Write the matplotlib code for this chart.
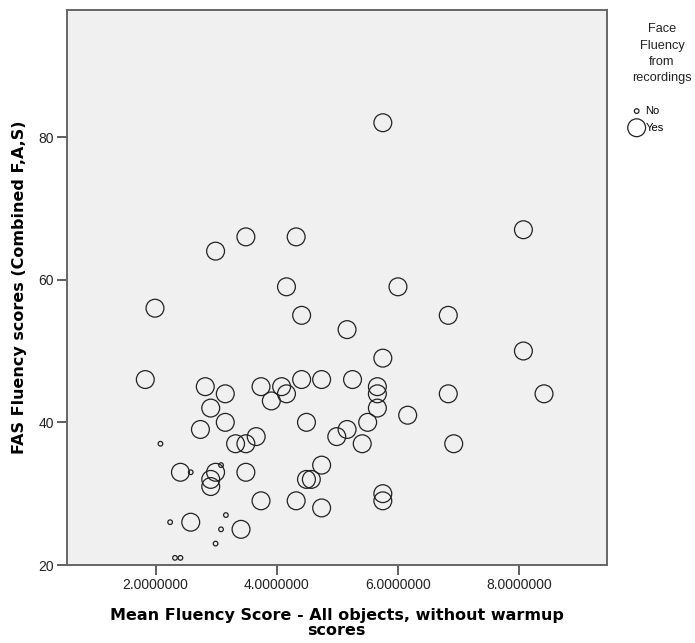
import matplotlib
matplotlib.use("Agg")
import matplotlib.pyplot as plt
from matplotlib.ticker import FormatStrFormatter

plt.rcParams['font.family'] = ['Liberation Sans', 'DejaVu Sans']

#face fluency from recordings = Yes
yes_x = [5.75, 8.07, 3.49, 4.32, 2.99, 4.16, 6.00, 1.99, 4.41, 6.83, 5.16, 8.07, 5.75,
         1.83, 4.41, 4.74, 5.25, 2.82, 3.74, 4.08, 5.66, 3.15, 4.16, 5.66, 6.83, 8.41,
         3.91, 2.91, 5.66, 6.16, 3.15, 4.49, 5.50, 2.74, 5.16, 3.66, 4.99, 3.32, 3.49,
         5.41, 6.92, 4.74, 2.41, 2.99, 3.49, 2.91, 4.49, 4.57, 2.91, 5.75, 3.74, 4.32,
         5.75, 4.74, 2.58, 3.41]
yes_y = [82, 67, 66, 66, 64, 59, 59, 56, 55, 55, 53, 50, 49,
         46, 46, 46, 46, 45, 45, 45, 45, 44, 44, 44, 44, 44,
         43, 42, 42, 41, 40, 40, 40, 39, 39, 38, 38, 37, 37,
         37, 37, 34, 33, 33, 33, 32, 32, 32, 31, 30, 29, 29,
         29, 28, 26, 25]

#face fluency from recordings = No
no_x = [2.08, 2.58, 3.08, 3.16, 2.24, 3.08, 2.99, 2.32, 2.41]
no_y = [37, 33, 34, 27, 26, 25, 23, 21, 21]

x_ticks = [2, 4, 6, 8]
y_ticks = [20, 40, 60, 80]

#%%
fig = plt.figure(figsize=(6.95, 6.43), dpi=100)
ax = fig.add_axes([0.0957, 0.1213, 0.7773, 0.8631])
ax.set_facecolor("#f0f0f0")

ax.scatter(no_x, no_y, s=11, facecolors="none", edgecolors="#222222", linewidths=0.9, label="No")
ax.scatter(yes_x, yes_y, s=165, facecolors="none", edgecolors="#222222", linewidths=0.9, label="Yes")

ax.set_xlim(0.53, 9.445)
ax.set_ylim(20, 97.8)
ax.set_xticks(x_ticks)
ax.set_yticks(y_ticks)
ax.xaxis.set_major_formatter(FormatStrFormatter("%.7f"))
ax.tick_params(axis="both", direction="out", length=7, width=1.2, color="#444444",
               labelsize=10, labelcolor="#222222", pad=2)

for sp in ax.spines.values():
    sp.set_color("#666666")
    sp.set_linewidth(1.4)

#axis titles (wider bold face, like the original)
ax.set_xlabel("Mean Fluency Score - All objects, without warmup\nscores",
              family="DejaVu Sans", fontsize=11.5, fontweight="bold", linespacing=0.95, labelpad=12)
ax.set_ylabel("FAS Fluency scores (Combined F,A,S)", family="DejaVu Sans",
              fontsize=11.5, fontweight="bold", labelpad=8)

#legend: title as text, entries from the scatter handles
fig.text(662 / 695, 1 - 23 / 643, "Face\nFluency\nfrom\nrecordings", ha="center", va="top",
         fontsize=9.2, linespacing=1.5, color="#222222")
leg = ax.legend(loc="upper left", bbox_to_anchor=(630 / 695, 1 - 106 / 643),
                bbox_transform=fig.transFigure, frameon=False, fontsize=8,
                handletextpad=0.2, handlelength=1.2, borderpad=0,
                borderaxespad=0, labelspacing=0.6)

plt.savefig("out.png", dpi=100)
